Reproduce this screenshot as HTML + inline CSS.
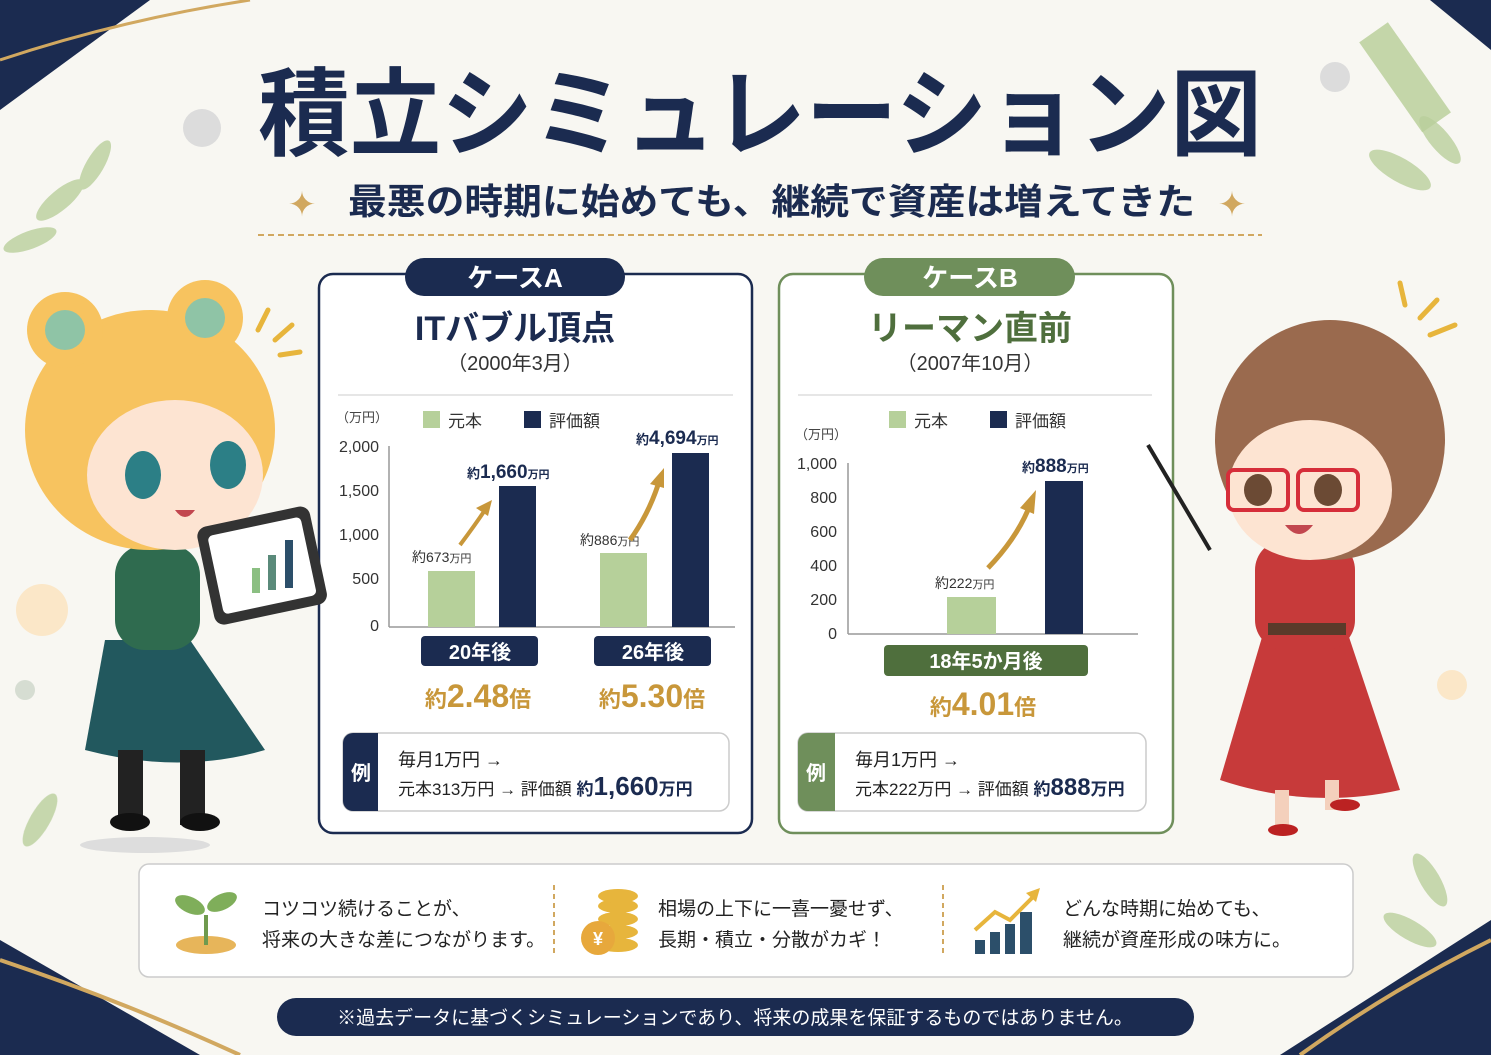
<!DOCTYPE html>
<html><head><meta charset="utf-8"><style>
html,body{margin:0;padding:0;background:#f8f7f2}
svg{display:block}
text{font-family:"Liberation Sans","Noto Sans CJK JP",sans-serif}
</style></head><body>
<svg width="1491" height="1055" viewBox="0 0 1491 1055" xmlns="http://www.w3.org/2000/svg">
<rect width="1491" height="1055" fill="#f8f7f2"/>
<polygon points="0,0 150,0 0,110" fill="#1b2b50"/>
<path d="M0,60 Q120,20 250,0" fill="none" stroke="#d1a860" stroke-width="3"/>
<polygon points="1430,0 1491,0 1491,50" fill="#1b2b50"/>
<polygon points="0,940 0,1055 200,1055" fill="#1b2b50"/>
<path d="M0,960 Q120,1000 240,1055" stroke="#d1a860" stroke-width="4" fill="none"/>
<polygon points="1491,920 1491,1055 1280,1055" fill="#1b2b50"/>
<path d="M1491,940 Q1390,990 1300,1055" stroke="#d1a860" stroke-width="4" fill="none"/>
<rect x="1390" y="20" width="35" height="110" fill="#c4d6a9" transform="rotate(-35 1410 80)"/>
<circle cx="202" cy="128" r="19" fill="#dcdcdc"/>
<circle cx="1335" cy="77" r="15" fill="#dcdcdc"/>
<circle cx="42" cy="610" r="26" fill="#fbe7c8"/>
<circle cx="1452" cy="685" r="15" fill="#fbe7c8"/>
<circle cx="25" cy="690" r="10" fill="#d6ddd2"/>
<g fill="#b9cf9c" opacity="0.8">
<ellipse cx="60" cy="200" rx="30" ry="10" transform="rotate(-40 60 200)"/>
<ellipse cx="95" cy="165" rx="28" ry="9" transform="rotate(-60 95 165)"/>
<ellipse cx="30" cy="240" rx="28" ry="9" transform="rotate(-20 30 240)"/>
<ellipse cx="1400" cy="170" rx="35" ry="12" transform="rotate(30 1400 170)"/>
<ellipse cx="1440" cy="140" rx="30" ry="10" transform="rotate(50 1440 140)"/>
<ellipse cx="40" cy="820" rx="30" ry="10" transform="rotate(-60 40 820)"/>
<ellipse cx="1430" cy="880" rx="30" ry="10" transform="rotate(60 1430 880)"/>
<ellipse cx="1410" cy="930" rx="30" ry="10" transform="rotate(30 1410 930)"/>
</g>
<text x="258" y="148" font-size="96" font-weight="bold" fill="#1b2b50" textLength="1004" lengthAdjust="spacingAndGlyphs">積立シミュレーション図</text>
<text x="348" y="214" font-size="36" font-weight="bold" fill="#1b2b50" textLength="847" lengthAdjust="spacingAndGlyphs">最悪の時期に始めても、継続で資産は増えてきた</text>
<text x="302" y="216" text-anchor="middle" font-size="34" fill="#d1a860">✦</text>
<text x="1232" y="216" text-anchor="middle" font-size="34" fill="#d1a860">✦</text>
<line x1="258" y1="235" x2="1262" y2="235" stroke="#d1a860" stroke-width="2" stroke-dasharray="6,4"/>

<rect x="319" y="274" width="433" height="559" rx="14" fill="#fff" stroke="#1b2b50" stroke-width="2.5"/>
<rect x="405" y="258" width="220" height="38" rx="19" fill="#1b2b50"/>
<text x="515" y="287" text-anchor="middle" font-size="26" font-weight="bold" fill="#fff">ケースA</text>
<text x="515" y="340" text-anchor="middle" font-size="34" font-weight="bold" fill="#1b2b50">ITバブル頂点</text>
<text x="515" y="370" text-anchor="middle" font-size="20" fill="#333">（2000年3月）</text>
<line x1="338" y1="395" x2="733" y2="395" stroke="#ddd" stroke-width="1.5"/>
<text x="336" y="422" font-size="13" fill="#444">（万円）</text>
<rect x="423" y="411" width="17" height="17" fill="#b6d09a"/><text x="448" y="427" font-size="17" fill="#333">元本</text>
<rect x="524" y="411" width="17" height="17" fill="#1b2b50"/><text x="549" y="427" font-size="17" fill="#333">評価額</text>
<g font-size="16" fill="#333" text-anchor="end">
<text x="379" y="452">2,000</text><text x="379" y="496">1,500</text><text x="379" y="540">1,000</text><text x="379" y="584">500</text><text x="379" y="631">0</text></g>
<line x1="389" y1="446" x2="389" y2="627" stroke="#999" stroke-width="1.5"/>
<line x1="389" y1="627" x2="735" y2="627" stroke="#999" stroke-width="1.5"/>
<rect x="428" y="571" width="47" height="56" fill="#b6d09a"/>
<rect x="499" y="486" width="37" height="141" fill="#1b2b50"/>
<rect x="600" y="553" width="47" height="74" fill="#b6d09a"/>
<rect x="672" y="453" width="37" height="174" fill="#1b2b50"/>
<text x="412" y="562" font-size="14" fill="#333">約673<tspan font-size="11">万円</tspan></text>
<text x="580" y="545" font-size="14" fill="#333">約886<tspan font-size="11">万円</tspan></text>
<text x="467" y="478" font-size="13" font-weight="bold" fill="#1b2b50">約<tspan font-size="19">1,660</tspan><tspan font-size="11">万円</tspan></text>
<text x="636" y="444" font-size="13" font-weight="bold" fill="#1b2b50">約<tspan font-size="19">4,694</tspan><tspan font-size="11">万円</tspan></text>
<path d="M460,545 Q475,525 485,510" stroke="#c8973a" stroke-width="4" fill="none"/><polygon points="492,500 476,508 488,516" fill="#c8973a"/>
<path d="M630,540 Q648,515 658,485" stroke="#c8973a" stroke-width="5" fill="none"/><polygon points="664,468 650,484 664,488" fill="#c8973a"/>
<rect x="421" y="636" width="117" height="30" rx="4" fill="#1b2b50"/><text x="480" y="659" text-anchor="middle" font-size="20" font-weight="bold" fill="#fff">20年後</text>
<rect x="594" y="636" width="117" height="30" rx="4" fill="#1b2b50"/><text x="653" y="659" text-anchor="middle" font-size="20" font-weight="bold" fill="#fff">26年後</text>
<text x="478" y="707" text-anchor="middle" font-size="22" font-weight="bold" fill="#c8973a">約<tspan font-size="32">2.48</tspan>倍</text>
<text x="652" y="707" text-anchor="middle" font-size="22" font-weight="bold" fill="#c8973a">約<tspan font-size="32">5.30</tspan>倍</text>
<rect x="343" y="733" width="386" height="78" rx="10" fill="#fff" stroke="#ccc" stroke-width="1.5"/>
<path d="M353,733 h25 v78 h-25 a10,10 0 0 1 -10,-10 v-58 a10,10 0 0 1 10,-10z" fill="#1b2b50"/>
<text x="361" y="780" text-anchor="middle" font-size="20" font-weight="bold" fill="#fff">例</text>
<text x="398" y="766" font-size="18" fill="#222">毎月1万円 →</text>
<text x="398" y="795" font-size="17" fill="#222">元本313万円 → 評価額 <tspan font-weight="bold" fill="#1b2b50">約<tspan font-size="26">1,660</tspan>万円</tspan></text>

<rect x="779" y="274" width="394" height="559" rx="14" fill="#fff" stroke="#6f8f5b" stroke-width="2.5"/>
<rect x="864" y="258" width="211" height="38" rx="19" fill="#6f8f5b"/>
<text x="970" y="287" text-anchor="middle" font-size="26" font-weight="bold" fill="#fff">ケースB</text>
<text x="970" y="340" text-anchor="middle" font-size="34" font-weight="bold" fill="#4f6f3d">リーマン直前</text>
<text x="970" y="370" text-anchor="middle" font-size="20" fill="#333">（2007年10月）</text>
<line x1="798" y1="395" x2="1152" y2="395" stroke="#ddd" stroke-width="1.5"/>
<text x="795" y="439" font-size="13" fill="#444">（万円）</text>
<rect x="889" y="411" width="17" height="17" fill="#b6d09a"/><text x="914" y="427" font-size="17" fill="#333">元本</text>
<rect x="990" y="411" width="17" height="17" fill="#1b2b50"/><text x="1015" y="427" font-size="17" fill="#333">評価額</text>
<g font-size="16" fill="#333" text-anchor="end">
<text x="837" y="469">1,000</text><text x="837" y="503">800</text><text x="837" y="537">600</text><text x="837" y="571">400</text><text x="837" y="605">200</text><text x="837" y="639">0</text></g>
<line x1="848" y1="463" x2="848" y2="634" stroke="#999" stroke-width="1.5"/>
<line x1="848" y1="634" x2="1138" y2="634" stroke="#999" stroke-width="1.5"/>
<rect x="947" y="597" width="49" height="37" fill="#b6d09a"/>
<rect x="1045" y="481" width="38" height="153" fill="#1b2b50"/>
<text x="935" y="588" font-size="14" fill="#333">約222<tspan font-size="11">万円</tspan></text>
<text x="1022" y="472" font-size="13" font-weight="bold" fill="#1b2b50">約<tspan font-size="19">888</tspan><tspan font-size="11">万円</tspan></text>
<path d="M988,568 Q1015,540 1028,510" stroke="#c8973a" stroke-width="5" fill="none"/><polygon points="1036,490 1020,508 1034,514" fill="#c8973a"/>
<rect x="884" y="645" width="204" height="31" rx="4" fill="#4f6f3d"/><text x="986" y="668" text-anchor="middle" font-size="20" font-weight="bold" fill="#fff">18年5か月後</text>
<text x="983" y="715" text-anchor="middle" font-size="22" font-weight="bold" fill="#c8973a">約<tspan font-size="32">4.01</tspan>倍</text>
<rect x="798" y="733" width="348" height="78" rx="10" fill="#fff" stroke="#ccc" stroke-width="1.5"/>
<path d="M808,733 h27 v78 h-27 a10,10 0 0 1 -10,-10 v-58 a10,10 0 0 1 10,-10z" fill="#6f8f5b"/>
<text x="816" y="780" text-anchor="middle" font-size="20" font-weight="bold" fill="#fff">例</text>
<text x="855" y="766" font-size="18" fill="#222">毎月1万円 →</text>
<text x="855" y="795" font-size="17" fill="#222">元本222万円 → 評価額 <tspan font-weight="bold" fill="#1b2b50">約<tspan font-size="24">888</tspan>万円</tspan></text>

<g>
<ellipse cx="145" cy="845" rx="65" ry="8" fill="#ddd"/>
<path d="M105,640 L190,640 L265,750 Q180,775 85,750 Z" fill="#22585e"/>
<rect x="115" y="545" width="85" height="105" rx="30" fill="#2f6b4f"/>
<rect x="118" y="750" width="25" height="75" fill="#222"/><rect x="180" y="750" width="25" height="75" fill="#222"/>
<ellipse cx="130" cy="822" rx="20" ry="9" fill="#111"/><ellipse cx="200" cy="822" rx="20" ry="9" fill="#111"/>
<ellipse cx="150" cy="430" rx="125" ry="120" fill="#f7c35f"/>
<circle cx="65" cy="330" r="38" fill="#f7c35f"/><circle cx="65" cy="330" r="20" fill="#8fc4a6"/>
<circle cx="205" cy="318" r="38" fill="#f7c35f"/><circle cx="205" cy="318" r="20" fill="#8fc4a6"/>
<ellipse cx="175" cy="475" rx="88" ry="75" fill="#fde4d2"/>
<ellipse cx="143" cy="475" rx="18" ry="24" fill="#2c7f86"/><ellipse cx="228" cy="465" rx="18" ry="24" fill="#2c7f86"/>
<path d="M175,510 q10,14 20,0z" fill="#c2474f"/>
<rect x="205" y="515" width="115" height="100" rx="10" fill="#333" transform="rotate(-12 265 567)"/>
<rect x="215" y="525" width="95" height="80" rx="5" fill="#fff" transform="rotate(-12 265 567)"/>
<rect x="252" y="568" width="8" height="25" fill="#8bbf82"/><rect x="268" y="555" width="8" height="35" fill="#5a8a7a"/><rect x="285" y="540" width="8" height="48" fill="#2c4f6a"/>
</g>
<g stroke="#e7b53c" stroke-width="5" stroke-linecap="round">
<line x1="258" y1="330" x2="268" y2="310"/><line x1="275" y1="340" x2="292" y2="325"/><line x1="280" y1="355" x2="300" y2="352"/>
<line x1="1405" y1="305" x2="1400" y2="283"/><line x1="1420" y1="318" x2="1437" y2="300"/><line x1="1430" y1="335" x2="1455" y2="325"/>
</g>
<g>
<path d="M1270,610 L1340,610 L1400,790 Q1310,810 1220,780 Z" fill="#c73a3a"/>
<rect x="1255" y="540" width="100" height="110" rx="30" fill="#c73a3a"/>
<rect x="1268" y="623" width="78" height="12" fill="#5a3a2a"/>
<rect x="1275" y="790" width="14" height="40" fill="#f4d0bc"/><rect x="1325" y="780" width="14" height="30" fill="#f4d0bc"/>
<ellipse cx="1283" cy="830" rx="15" ry="6" fill="#b22"/><ellipse cx="1345" cy="805" rx="15" ry="6" fill="#b22"/>
<line x1="1148" y1="445" x2="1210" y2="550" stroke="#222" stroke-width="4"/>
<ellipse cx="1330" cy="440" rx="115" ry="120" fill="#9a6a4e"/>
<ellipse cx="1310" cy="490" rx="82" ry="70" fill="#fde4d2"/>
<rect x="1228" y="470" width="60" height="40" rx="6" fill="none" stroke="#d62e3a" stroke-width="4"/>
<rect x="1298" y="470" width="60" height="40" rx="6" fill="none" stroke="#d62e3a" stroke-width="4"/>
<ellipse cx="1258" cy="490" rx="14" ry="16" fill="#6b4a34"/><ellipse cx="1328" cy="490" rx="14" ry="16" fill="#6b4a34"/>
<path d="M1285,525 q14,18 28,0z" fill="#c2474f"/>
</g>

<rect x="139" y="864" width="1214" height="113" rx="10" fill="#fff" stroke="#ccc" stroke-width="1.5"/>
<line x1="554" y1="885" x2="554" y2="957" stroke="#d1a860" stroke-width="2" stroke-dasharray="5,4"/>
<line x1="943" y1="885" x2="943" y2="957" stroke="#d1a860" stroke-width="2" stroke-dasharray="5,4"/>
<ellipse cx="206" cy="945" rx="30" ry="9" fill="#e7b55a"/>
<path d="M206,945 v-30" stroke="#6f9a4e" stroke-width="4"/>
<ellipse cx="190" cy="905" rx="16" ry="8" fill="#7fae5a" transform="rotate(25 190 905)"/>
<ellipse cx="222" cy="902" rx="16" ry="8" fill="#7fae5a" transform="rotate(-25 222 902)"/>
<text x="262" y="915" font-size="19" fill="#222">コツコツ続けることが、</text>
<text x="262" y="946" font-size="19" fill="#222">将来の大きな差につながります。</text>
<g fill="#e7b53c"><ellipse cx="618" cy="945" rx="20" ry="7"/><ellipse cx="618" cy="932" rx="20" ry="7"/><ellipse cx="618" cy="919" rx="20" ry="7"/><ellipse cx="618" cy="906" rx="20" ry="7"/><ellipse cx="618" cy="896" rx="20" ry="7"/></g>
<circle cx="598" cy="938" r="17" fill="#e7a83c"/><text x="598" y="945" text-anchor="middle" font-size="18" font-weight="bold" fill="#fff">¥</text>
<text x="658" y="915" font-size="19" fill="#222">相場の上下に一喜一憂せず、</text>
<text x="658" y="946" font-size="19" fill="#222">長期・積立・分散がカギ！</text>
<g fill="#2c4f6a"><rect x="975" y="940" width="10" height="14"/><rect x="990" y="932" width="10" height="22"/><rect x="1005" y="924" width="10" height="30"/><rect x="1020" y="912" width="12" height="42"/></g>
<polyline points="975,930 995,912 1010,920 1035,895" fill="none" stroke="#e7b53c" stroke-width="4"/>
<polygon points="1040,888 1026,893 1036,902" fill="#e7b53c"/>
<text x="1063" y="915" font-size="19" fill="#222">どんな時期に始めても、</text>
<text x="1063" y="946" font-size="19" fill="#222">継続が資産形成の味方に。</text>

<rect x="277" y="998" width="917" height="38" rx="19" fill="#1b2b50"/>
<text x="735" y="1024" text-anchor="middle" font-size="19" fill="#fff">※過去データに基づくシミュレーションであり、将来の成果を保証するものではありません。</text>
</svg>
</body></html>
